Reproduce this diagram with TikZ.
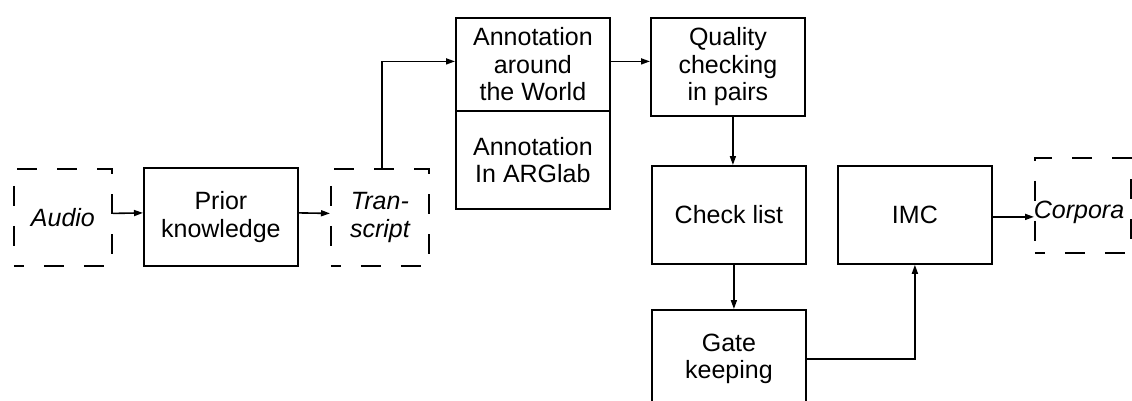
\documentclass[tikz,border=0pt]{standalone}
\usepackage{fontspec}
\setmainfont{Liberation Sans}
\usetikzlibrary{arrows.meta,calc}
\begin{document}
\begin{tikzpicture}[x=1pt,y=-1pt,
  font=\fontsize{25}{27.5}\selectfont,
  box/.style={draw,line width=1.8pt,minimum width=154pt,minimum height=98pt,
    inner sep=0pt,align=center,anchor=north west},
  dbox/.style={draw,line width=1.8pt,dash pattern=on 20pt off 20pt,dash phase=10pt,
    minimum width=98pt,minimum height=97pt,inner sep=0pt,align=center,
    anchor=north west,font=\fontsize{25}{27.5}\selectfont\itshape},
  link/.style={line width=1.6pt,-{Triangle[length=9pt,width=6pt]}}]
\useasboundingbox (0,0) rectangle (1132,401);
\begin{scope}
\clip (0,0) rectangle (1132,401);
% dashed source / product boxes
\node[dbox] (audio) at (13,168) {Audio};
\node[dbox] (transcript) at (330,168) {Tran-\\script};
\node[dbox,minimum width=96pt,minimum height=95pt] (corpora) at (1034,157) {};
\node[font=\fontsize{25}{27.5}\selectfont\itshape] (corporatext) at (1079,212) {Corpora};
% processing boxes
\node[box] (prior) at (143,167) {Prior\\knowledge};
\node[box,minimum height=93pt] (annA) at (455,17) {Annotation\\around\\the World};
\node[box,minimum height=98pt] (annB) at (455,110) {Annotation\\In ARGlab};
\node[box] (quality) at (650,17) {Quality\\checking\\in pairs};
\node[box] (check) at (651,165) {Check list};
\node[box] (imc) at (837,165) {IMC};
\node[box] (gate) at (651,309) {Gate\\keeping};
% connectors
\draw[link] ([yshift=4pt]audio.east) -- ([yshift=4pt]prior.west);
\draw[link] ([yshift=4pt]prior.east) -- ([yshift=4pt]transcript.west);
\draw[link] ([xshift=2pt]transcript.north) |- ([yshift=3pt]annA.west);
\draw[link] ([yshift=3pt]annA.east) -- ([yshift=3pt]annA.east -| quality.west);
\draw[link] ([xshift=5pt]quality.south) -- ([xshift=5pt]quality.south |- check.north);
\draw[link] ([xshift=5pt]check.south) -- ([xshift=5pt]gate.north);
\draw[link] (gate.east) -| (imc.south);
\draw[link] ([yshift=-2pt]imc.east) -- ([yshift=-2pt]imc.east -| corpora.west);
\end{scope}
\end{tikzpicture}
\end{document}
